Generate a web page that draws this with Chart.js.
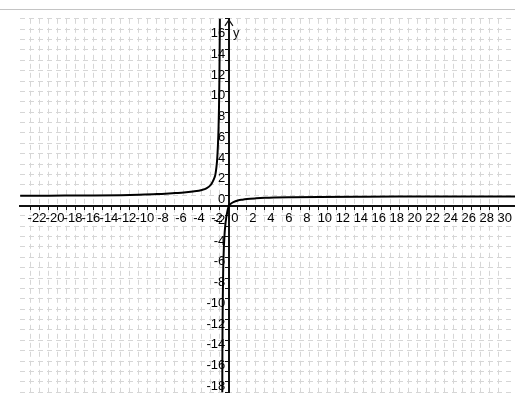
<!DOCTYPE html>
<html>
<head>
<meta charset="utf-8">
<script src="https://cdn.jsdelivr.net/npm/chart.js@4"></script>
<style>
  body { margin: 0; background: #fff; }
  #frame { position: absolute; left: 0; top: 9px; width: 515px; height: 391px; border-top: 1px solid #c4c4c4; }
  canvas { display: block; }
</style>
</head>
<body>
<div id="frame"><canvas id="graph" width="515" height="391"></canvas></div>
<script>
// left branch (x < asymptote)
const leftX = [-23.2, -20, -16, -12, -10, -8, -6, -5, -4, -3, -2.5, -2, -1.8, -1.6, -1.5, -1.4, -1.3, -1.22, -1.15, -1.1, -1.06, -1.03, -1.0, -0.98];
const leftY = [0.93, 0.95, 0.97, 1.0, 1.04, 1.1, 1.2, 1.25, 1.35, 1.5, 1.65, 2.0, 2.3, 2.7, 3.0, 3.6, 4.5, 5.8, 7.5, 9.5, 12, 15, 18.5, 22];
// right branch
const rightX = [-0.74, -0.73, -0.71, -0.68, -0.64, -0.58, -0.5, -0.4, -0.3, -0.2, -0.1, 0, 0.25, 0.5, 1, 1.5, 2, 3, 4, 5, 7, 10, 15, 20, 25, 32];
const rightY = [-20, -16, -12, -9, -6.5, -4.5, -3, -1.9, -1.2, -0.7, -0.3, 0, 0.2, 0.33, 0.48, 0.56, 0.62, 0.69, 0.74, 0.77, 0.8, 0.83, 0.85, 0.86, 0.87, 0.88];

const xTickLabels = [-22, -20, -18, -16, -14, -12, -10, -8, -6, -4, -2, 0, 2, 4, 6, 8, 10, 12, 14, 16, 18, 20, 22, 24, 26, 28, 30];
const yTickLabels = [-18, -16, -14, -12, -10, -8, -6, -4, -2, 0, 2, 4, 6, 8, 10, 12, 14, 16];

const toPoints = (xs, ys) => xs.map((x, i) => ({ x: x, y: ys[i] }));
const onlyIntegers = (scale) => { scale.ticks = scale.ticks.filter(t => Number.isInteger(t.value)); };

const fontFamily = "'Liberation Sans Narrow', 'Liberation Sans', Arial, sans-serif";
const tickFont = { family: fontFamily, size: 13 };

// arrow on top of y axis + "y" label
const axisArrow = {
  id: 'axisArrow',
  afterDraw(chart) {
    const ctx = chart.ctx;
    const x0 = chart.scales.x.getPixelForValue(0);
    const top = chart.chartArea.top;
    ctx.save();
    ctx.strokeStyle = '#111';
    ctx.lineWidth = 1.2;
    ctx.beginPath();
    ctx.moveTo(x0 - 4, top + 7);
    ctx.lineTo(x0, top + 1);
    ctx.lineTo(x0 + 4, top + 7);
    ctx.stroke();
    ctx.fillStyle = '#111';
    ctx.font = '13px ' + fontFamily;
    ctx.textAlign = 'left';
    ctx.textBaseline = 'middle';
    ctx.fillText('y', x0 + 4, top + 15);
    ctx.restore();
  }
};

new Chart(document.getElementById('graph'), {
  type: 'scatter',
  data: {
    datasets: [
      {
        data: toPoints(leftX, leftY),
        showLine: true,
        borderColor: '#000',
        borderWidth: 2,
        pointRadius: 0,
        cubicInterpolationMode: 'monotone'
      },
      {
        data: toPoints(rightX, rightY),
        showLine: true,
        borderColor: '#000',
        borderWidth: 2,
        pointRadius: 0,
        cubicInterpolationMode: 'monotone'
      }
    ]
  },
  options: {
    responsive: false,
    animation: false,
    layout: { padding: { left: 20, top: 1, right: 0, bottom: 0 } },
    plugins: {
      legend: { display: false },
      tooltip: { enabled: false }
    },
    scales: {
      x: {
        type: 'linear',
        min: -23.22,
        max: 31.8,
        position: { y: 0 },
        afterFit: (scale) => { scale.height = 0; },
        afterBuildTicks: onlyIntegers,
        grid: { color: '#d6d6d6', lineWidth: 1, tickColor: '#111', tickLength: 3, tickWidth: 1 },
        border: { color: '#111', width: 2, dash: [5, 4] },
        ticks: {
          stepSize: 1,
          autoSkip: false,
          maxRotation: 0,
          padding: 2,
          labelOffset: 6,
          color: '#000',
          font: tickFont,
          callback: (v) => xTickLabels.includes(v) ? String(v) : ''
        }
      },
      y: {
        type: 'linear',
        min: -18,
        max: 18,
        position: { x: 0 },
        afterFit: (scale) => { scale.width = 0; },
        afterBuildTicks: onlyIntegers,
        grid: { color: '#d6d6d6', lineWidth: 1, tickColor: '#111', tickLength: 3, tickWidth: 1 },
        border: { color: '#111', width: 2, dash: [5, 4] },
        ticks: {
          stepSize: 1,
          autoSkip: false,
          padding: 1,
          labelOffset: -6,
          color: '#000',
          font: tickFont,
          callback: (v) => yTickLabels.includes(v) ? String(v) + ' ' : ''
        }
      }
    }
  },
  plugins: [axisArrow]
});
</script>
</body>
</html>
